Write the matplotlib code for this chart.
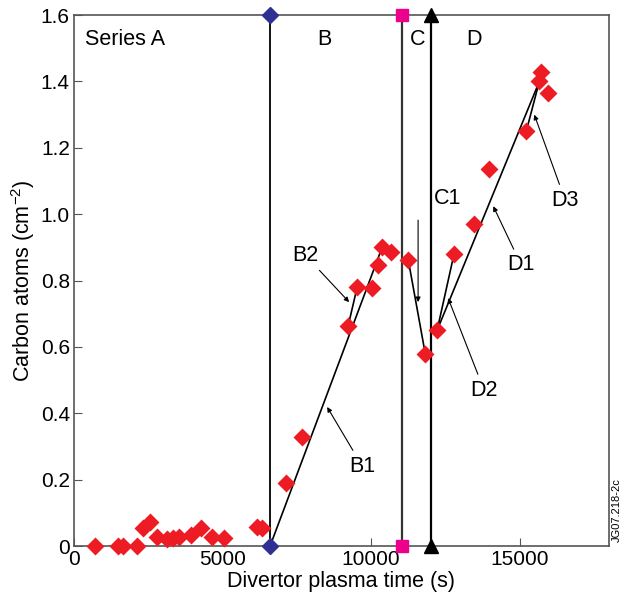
import matplotlib
matplotlib.use('Agg')
import matplotlib.pyplot as plt

plt.rcParams['font.family'] = ['Liberation Sans', 'DejaVu Sans']
plt.rcParams['mathtext.fontset'] = 'custom'
plt.rcParams['mathtext.rm'] = 'Liberation Sans'

# measured points (time in s, carbon atoms)
time_a = [707, 1481, 1650, 2121, 2323, 2559, 2795, 3131, 3333, 3535, 3939, 4276, 4646, 5050, 6162, 6330]
carbon_a = [0.0, 0.0, 0.0, 0.0, 0.054, 0.072, 0.027, 0.021, 0.024, 0.027, 0.033, 0.054, 0.027, 0.024, 0.057, 0.054]
time_b = [7140, 7680, 9225, 9530, 10030, 10240, 10370, 10670]
carbon_b = [0.19, 0.328, 0.663, 0.78, 0.777, 0.847, 0.90, 0.886]
time_c = [11250, 11820]
carbon_c = [0.862, 0.58]
time_d = [12220, 12790, 13470, 13970, 15220, 15660, 15720, 15960]
carbon_d = [0.65, 0.88, 0.97, 1.136, 1.25, 1.40, 1.428, 1.365]

# boundaries between series
t_b_start = 6600
t_c_start = 11050
t_d_start = 12020

# fit segments
fit_b1 = ([6600, 10370], [0.0, 0.90])
fit_b2 = ([9225, 9530], [0.663, 0.78])
fit_c = ([11250, 11820], [0.862, 0.58])
fit_d1 = ([12220, 15660], [0.65, 1.40])
fit_d2 = ([12220, 12790], [0.65, 0.88])
fit_d3 = ([15220, 15660], [1.25, 1.40])

fig = plt.figure(figsize=(6.29, 6.04), dpi=100)
ax = fig.add_axes([0.1176, 0.096, 0.968 - 0.1176, 0.975 - 0.096])

for x, y in [fit_b1, fit_b2, fit_c, fit_d1, fit_d2, fit_d3]:
    ax.plot(x, y, color='black', lw=1.2, zorder=2)

ax.plot([t_b_start, t_b_start], [0, 1.6], color='black', lw=1.3, zorder=2)
ax.plot([t_c_start, t_c_start], [0, 1.6], color='#333333', lw=1.6, zorder=2)
ax.plot([t_d_start, t_d_start], [0, 1.6], color='black', lw=1.6, zorder=2)
ax.plot([t_b_start, t_b_start], [0, 1.6], 'D', color='#2E3192', ms=8, clip_on=False, zorder=5)
ax.plot([t_c_start, t_c_start], [0, 1.6], 's', color='#EC008C', ms=8, clip_on=False, zorder=5)
ax.plot([t_d_start, t_d_start], [0.0, 1.6], '^', color='black', ms=10, clip_on=False, zorder=5)

red = '#ED1C24'
for tx, cy in [(time_a, carbon_a), (time_b, carbon_b), (time_c, carbon_c), (time_d, carbon_d)]:
    ax.plot(tx, cy, 'D', color=red, ms=9.5, mec='none', clip_on=False, zorder=4)

arrow = dict(arrowstyle='-|>', color='black', lw=0.8, mutation_scale=7, shrinkA=2, shrinkB=0)
fs = 15.5
ax.annotate('B2', xy=(9260, 0.735), xytext=(7778, 0.877), fontsize=fs, ha='center', va='center', arrowprops=arrow)
ax.annotate('B1', xy=(8520, 0.419), xytext=(9700, 0.241), fontsize=fs, ha='center', va='center', arrowprops=arrow)
ax.annotate('D1', xy=(14110, 1.024), xytext=(15050, 0.847), fontsize=fs, ha='center', va='center', arrowprops=arrow)
ax.annotate('D2', xy=(12590, 0.747), xytext=(13800, 0.47), fontsize=fs, ha='center', va='center', arrowprops=arrow)
ax.annotate('D3', xy=(15490, 1.30), xytext=(16530, 1.042), fontsize=fs, ha='center', va='center', arrowprops=arrow)
ax.annotate('', xy=(11580, 0.735), xytext=(11580, 0.982), arrowprops=dict(arrow, shrinkA=0))
ax.text(12560, 1.048, 'C1', fontsize=fs, ha='center', va='center')

ax.text(1717, 1.525, 'Series A', fontsize=fs, ha='center', va='center')
ax.text(8418, 1.525, 'B', fontsize=fs, ha='center', va='center')
ax.text(11580, 1.525, 'C', fontsize=fs, ha='center', va='center')
ax.text(13470, 1.525, 'D', fontsize=fs, ha='center', va='center')

ax.set_xlim(0, 18000)
ax.set_ylim(0, 1.6)
ax.set_xticks([0, 5000, 10000, 15000])
ax.set_yticks([0, 0.2, 0.4, 0.6, 0.8, 1.0, 1.2, 1.4, 1.6])
ax.set_yticklabels(['0', '0.2', '0.4', '0.6', '0.8', '1.0', '1.2', '1.4', '1.6'])
ax.tick_params(direction='in', length=6, labelsize=15, color='#555555', pad=3)
ax.set_xlabel('Divertor plasma time (s)', fontsize=15.5, labelpad=1)
ax.set_ylabel(r'Carbon atoms (cm$^{-2}$)', fontsize=15.5, labelpad=3)
for s in ax.spines.values():
    s.set_color('#555555')
    s.set_linewidth(1.2)

fig.text(0.981, 0.155, 'JG07.218-2c', rotation=90, fontsize=8, ha='center', va='center')

fig.savefig('out.png', dpi=100)
